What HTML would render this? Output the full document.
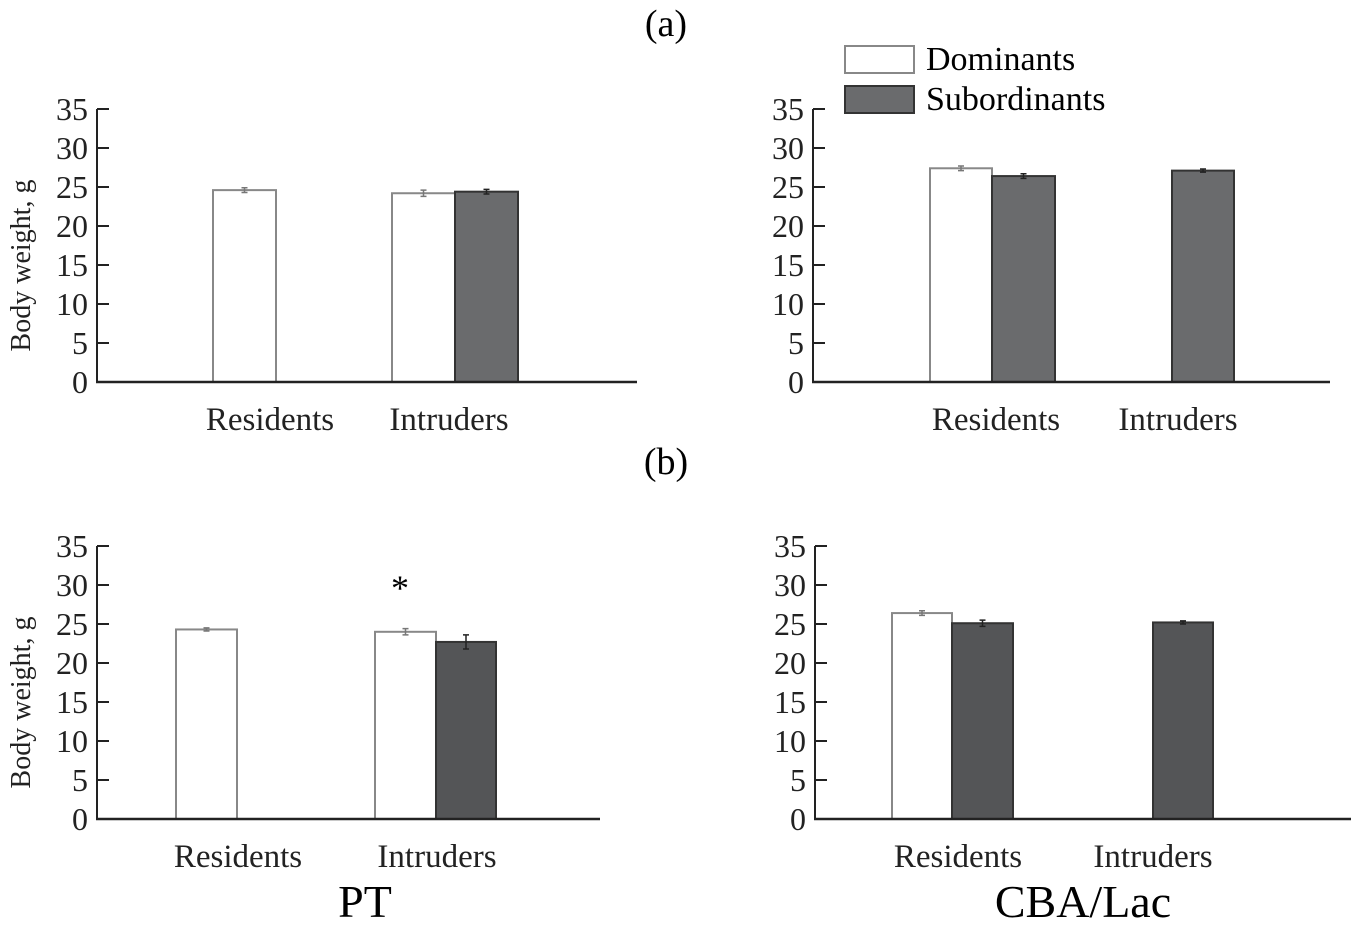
<!DOCTYPE html>
<html><head><meta charset="utf-8"><style>
body{margin:0;background:#fff}
svg{display:block;font-family:"Liberation Serif",serif}
</style></head><body>
<svg id="chart" width="1351" height="928" xmlns="http://www.w3.org/2000/svg">
<text x="666" y="36" font-size="38" text-anchor="middle">(a)</text>
<text x="666" y="474" font-size="38" text-anchor="middle">(b)</text>
<g>
<rect x="845" y="46" width="69" height="27" fill="#fff" stroke="#888" stroke-width="2"/>
<text x="926" y="70" font-size="34">Dominants</text>
<rect x="845" y="86" width="69" height="27" fill="#6a6b6d" stroke="#333" stroke-width="2"/>
<text x="926" y="110" font-size="34">Subordinants</text>
</g>
<text x="365" y="917" font-size="46" text-anchor="middle">PT</text>
<text x="1083" y="917" font-size="46" text-anchor="middle">CBA/Lac</text>
<text x="400" y="600" font-size="36" text-anchor="middle">*</text>
</svg>
<script>
const ticks = [0,5,10,15,20,25,30,35];
const categories = ["Residents","Intruders"];
// values per panel: [residents-dom, residents-sub, intruders-dom, intruders-sub]; null = no bar
const aLeftValues = [24.6, null, 24.2, 24.4];
const aRightValues = [27.4, 26.4, null, 27.1];
const bLeftValues = [24.3, null, 24.0, 22.7];
const bRightValues = [26.4, 25.1, null, 25.2];
const aLeftErr = [0.3, 0, 0.4, 0.3];
const aRightErr = [0.3, 0.3, 0, 0.2];
const bLeftErr = [0.2, 0, 0.4, 0.9];
const bRightErr = [0.3, 0.4, 0, 0.2];

const svg = document.getElementById('chart');
const NS = 'http://www.w3.org/2000/svg';
function mk(tag, attrs, parent){const e=document.createElementNS(NS,tag);for(const k in attrs)e.setAttribute(k,attrs[k]);(parent||svg).appendChild(e);return e;}

const panels = [
 {name:'panel-a-left', ax:97, axEnd:637, y0:382, y35:109, vals:aLeftValues, err:aLeftErr, bars:[[213,276],null,[392,455],[455,518]], lab:[270,449], yl:true, sub:'#6a6b6d'},
 {name:'panel-a-right', ax:813, axEnd:1330, y0:382, y35:109, vals:aRightValues, err:aRightErr, bars:[[930,992],[992,1055],null,[1172,1234]], lab:[996,1178], yl:false, sub:'#6a6b6d'},
 {name:'panel-b-left', ax:97, axEnd:600, y0:819, y35:546, vals:bLeftValues, err:bLeftErr, bars:[[176,237],null,[375,436],[436,496]], lab:[238,437], yl:true, sub:'#545557'},
 {name:'panel-b-right', ax:815, axEnd:1351, y0:819, y35:546, vals:bRightValues, err:bRightErr, bars:[[892,952],[952,1013],null,[1153,1213]], lab:[958,1153], yl:false, sub:'#545557'}
];
panels.forEach(p=>{
  const g = mk('g',{});
  
  
  const y = v => p.y0 - (v/35)*(p.y0-p.y35);
  p.vals.forEach((v,i)=>{
    if(v===null||!p.bars[i])return;
    const [x1,x2]=p.bars[i];
    const dom = i%2===0;
    const r = mk('rect',{x:x1,y:y(v),width:x2-x1,height:p.y0-y(v),fill:dom?'#fff':p.sub,stroke:dom?'#888':'#333','stroke-width':2},g);
    
    
    const cx=(x1+x2)/2, e=p.err[i];
    if(e>0){
      const l = mk('path',{d:`M${cx},${y(v+e)}V${y(v-e)}M${cx-3},${y(v+e)}H${cx+3}M${cx-3},${y(v-e)}H${cx+3}`,stroke:dom?'#777':'#222','stroke-width':1.5,fill:'none'},g);
      
      
    }
  });
  const ya = mk('line',{x1:p.ax,y1:p.y35,x2:p.ax,y2:p.y0+1,stroke:'#222','stroke-width':2},g);
  
  
  const xa = mk('line',{x1:p.ax-1,y1:p.y0,x2:p.axEnd,y2:p.y0,stroke:'#222','stroke-width':2.5},g);
  
  
  ticks.forEach(t=>{
    mk('line',{x1:p.ax,y1:y(t),x2:p.ax+12,y2:y(t),stroke:'#222','stroke-width':2},g);
    const tx = mk('text',{x:p.ax-9,y:y(t)+11,'font-size':32,'text-anchor':'end',fill:'#222'},g);
    tx.textContent=t;
    
    
  });
  categories.forEach((c,i)=>{
    const tx = mk('text',{x:p.lab[i],y:p.y0+48,'font-size':33,'text-anchor':'middle',fill:'#222'},g);
    tx.textContent=c;
    
    
  });
  if(p.yl){
    const yt = mk('text',{x:0,y:0,'font-size':28,'text-anchor':'middle',fill:'#222',transform:`translate(30,${(p.y0+p.y35)/2+20}) rotate(-90)`},g);
    yt.textContent='Body weight, g';
    
    
  }
});
</script>
</body></html>
